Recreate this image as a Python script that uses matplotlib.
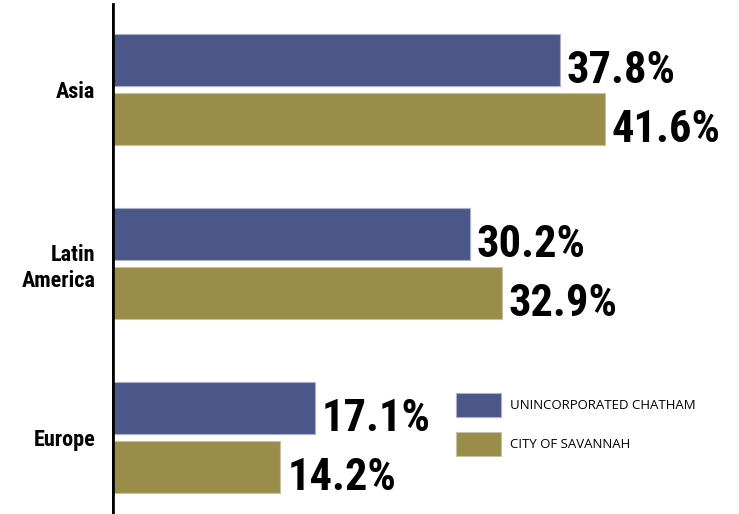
import numpy as np
import matplotlib
matplotlib.use('Agg')
import matplotlib.pyplot as plt
from matplotlib.patches import Patch

# data (percent)
regions = ['Asia', 'Latin\nAmerica', 'Europe']
chatham = [37.8, 30.2, 17.1]
savannah = [41.6, 32.9, 14.2]
series_names = ['UNINCORPORATED CHATHAM', 'CITY OF SAVANNAH']

BLUE = '#4b5689'
GOLD = '#9a8d49'
W, H = 739, 514
PX_PER_PCT = 11.85
GROUP_PX = 174.0

fig = plt.figure(figsize=(W / 100, H / 100), dpi=100)
left = 112
ax = fig.add_axes([left / W, 0, 1 - left / W, 1])

y = np.arange(len(regions))
bar_h = 52 / GROUP_PX
off = 29.5 / GROUP_PX

ax.barh(y - off, chatham, height=bar_h, color=BLUE, edgecolor='#aab0c8', linewidth=0.8)
ax.barh(y + off, savannah, height=bar_h, color=GOLD, edgecolor='#c8c2a0', linewidth=0.8)

ax.set_xlim(0, (W - left) / PX_PER_PCT)
top = -89.5 / GROUP_PX
ax.set_ylim(top + H / GROUP_PX, top)

num_font = ['Roboto Condensed', 'Roboto']
for vals, dy in ((chatham, -off), (savannah, off)):
    for i, v in enumerate(vals):
        ax.annotate(f'{v:.1f}%', (v, i + dy), xytext=(5, -16.5), textcoords='offset points',
                    ha='left', va='baseline', fontsize=32, fontweight='bold',
                    family=num_font, color='black')

for s in ax.spines.values():
    s.set_visible(False)
ax.axvline(0, ymin=1 - 512 / H, ymax=1 - 5 / H, color='black', linewidth=3.4)

ax.set_xticks([])
ax.set_yticks(y)
ax.set_yticklabels(regions, fontsize=16, fontweight='bold', family=num_font, ha='right',
                   linespacing=1.25)
ax.tick_params(axis='y', length=0, pad=12)

handles = [Patch(facecolor=BLUE, edgecolor='#aab0c8', linewidth=0.8),
           Patch(facecolor=GOLD, edgecolor='#c8c2a0', linewidth=0.8)]
fs = 9.5
fpx = fs * 100 / 72
fig.legend(handles, series_names, loc='upper left', bbox_to_anchor=(456 / W, 1 - 393 / H),
           frameon=False, borderpad=0, borderaxespad=0, fontsize=fs,
           handlelength=45 / fpx, handleheight=32 / fpx, handletextpad=9 / fpx,
           labelspacing=14.5 / fpx, prop={'family': 'Open Sans', 'size': fs})

fig.savefig('out.png', dpi=100)
